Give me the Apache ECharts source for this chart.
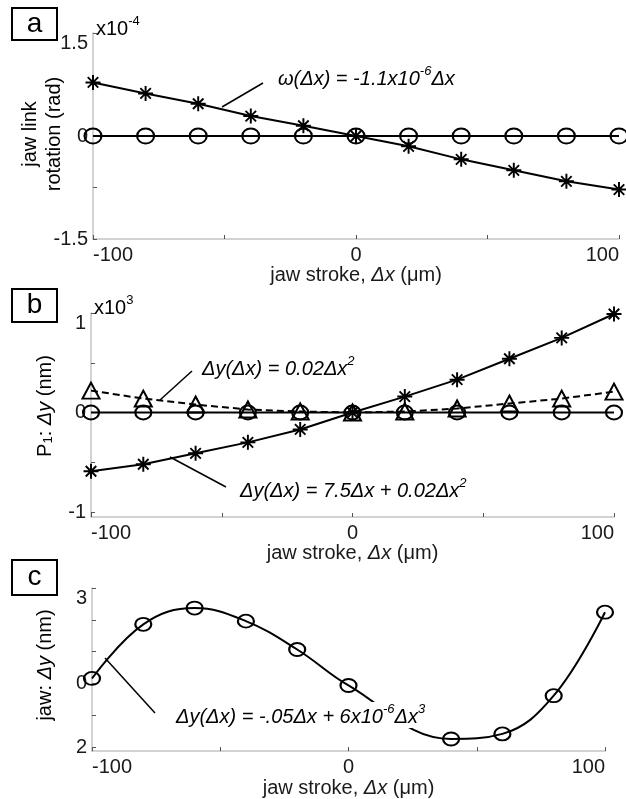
<!DOCTYPE html>
<html>
<head>
<meta charset="utf-8">
<script src="https://cdn.jsdelivr.net/npm/echarts@6/dist/echarts.min.js"></script>
<style>
html, body { margin: 0; padding: 0; background: #fff; }
#chart { width: 626px; height: 799px; }
</style>
</head>
<body>
<div id="chart"></div>
<script>
// jaw stroke positions (um)
var strokeX = [-100, -80, -60, -40, -20, 0, 20, 40, 60, 80, 100];
// panel a: jaw link rotation (x10^-4 rad)
var rotLinear = [0.78, 0.62, 0.47, 0.29, 0.15, 0, -0.15, -0.34, -0.50, -0.66, -0.78];
var rotZero = [0, 0, 0, 0, 0, 0, 0, 0, 0, 0, 0];
// panel b: P1 dy (x10^3 nm)
var p1Linear = [-0.59, -0.52, -0.41, -0.30, -0.17, 0, 0.16, 0.33, 0.54, 0.75, 0.99];
var p1Quad = [0.22, 0.14, 0.08, 0.03, 0.01, 0, 0.01, 0.04, 0.09, 0.14, 0.21];
var p1Zero = [0, 0, 0, 0, 0, 0, 0, 0, 0, 0, 0];
// panel c: jaw dy (nm)
var jawX = [-100, -80, -60, -40, -20, 0, 40, 60, 80, 100];
var jawY = [0.16, 1.86, 2.37, 1.96, 1.07, -0.06, -1.74, -1.58, -0.38, 2.24];

// ticks
var xTicks = [-100, -50, 0, 50, 100];
var xLabels = [-100, 0, 100];
var aTicks = [-1.5, -0.75, 0, 0.75, 1.5];
var aLabels = [-1.5, 0, 1.5];
var bTicks = [-1, -0.5, 0, 0.5, 1];
var bLabels = [-1, 0, 1];
var cTicks = [-2, -1, 0, 1, 2, 3];
var cLabels = [-2, 0, 3];

var FONT = '"Liberation Sans", Arial, sans-serif';
var INK = '#1a1a1a';
var STAR = 'path://M0,4.35L10,4.35L10,5.65L0,5.65Z M4.35,0L5.65,0L5.65,10L4.35,10Z M1.05,1.95L1.95,1.05L8.95,8.05L8.05,8.95Z M8.05,1.05L8.95,1.95L1.95,8.95L1.05,8.05Z';

function zip(xs, ys) {
  return xs.map(function (x, i) { return [x, ys[i]]; });
}

var rich = {
  n: { fontSize: 20, fontFamily: FONT, color: INK, lineHeight: 24, verticalAlign: 'bottom' },
  i: { fontSize: 20, fontFamily: FONT, color: INK, fontStyle: 'italic', lineHeight: 24, verticalAlign: 'bottom' },
  s: { fontSize: 13, fontFamily: FONT, color: INK, lineHeight: 17, verticalAlign: 'top' },
  si: { fontSize: 13, fontFamily: FONT, color: INK, fontStyle: 'italic', lineHeight: 17, verticalAlign: 'top' },
  sub: { fontSize: 13, fontFamily: FONT, color: INK, lineHeight: 20, verticalAlign: 'bottom' }
};

function xAxis(idx) {
  return {
    type: 'value', gridIndex: idx, min: -100, max: 100,
    axisLine: { onZero: false, lineStyle: { color: '#c4c4c4', width: 1.5 } },
    axisTick: { inside: true, length: 4, customValues: xTicks, lineStyle: { color: '#555' } },
    axisLabel: {
      customValues: xLabels, color: INK, fontSize: 20, fontFamily: FONT, margin: 6,
      alignMinLabel: 'left', alignMaxLabel: 'right'
    },
    splitLine: { show: false },
    name: '{n|jaw stroke, }{i|Δx}{n| (μm)}', nameLocation: 'middle', nameGap: 22,
    nameTextStyle: { rich: rich, verticalAlign: 'top' }
  };
}

function yAxis(idx, min, max, ticks, labels, fmt) {
  return {
    type: 'value', gridIndex: idx, min: min, max: max,
    axisLine: { show: true, onZero: false, lineStyle: { color: '#c4c4c4', width: 1.5 } },
    axisTick: { show: true, inside: true, length: 4, customValues: ticks, lineStyle: { color: '#555' } },
    axisLabel: {
      customValues: labels, color: INK, fontSize: 20, fontFamily: FONT, margin: 5,
      formatter: fmt, verticalAlignMaxLabel: 'top'
    },
    splitLine: { show: false }
  };
}

function starLine(xi, data) {
  return {
    type: 'line', xAxisIndex: xi, yAxisIndex: xi, data: data,
    symbol: STAR, symbolSize: 15, showAllSymbol: true,
    itemStyle: { color: '#000' },
    lineStyle: { color: '#000', width: 2 },
    z: 3
  };
}

function markLine(xi, data, symbol, size, dashed) {
  return {
    type: 'line', xAxisIndex: xi, yAxisIndex: xi, data: data,
    symbol: symbol, symbolSize: size, showAllSymbol: true,
    itemStyle: { color: 'rgba(0,0,0,0)', borderColor: '#000', borderWidth: 2 },
    lineStyle: { color: '#000', width: 2, type: dashed ? [7, 4] : 'solid' },
    z: 2
  };
}

function boxLabel(letter, top, h) {
  return [
    { type: 'rect', shape: { x: 12, y: top, width: 45, height: h }, style: { fill: '#fff', stroke: '#000', lineWidth: 2 }, z: 100 },
    { type: 'text', x: 34.5, y: top + h / 2, style: { text: letter, font: '28px ' + FONT, fill: '#000', align: 'center', verticalAlign: 'middle' }, z: 101 }
  ];
}

function richText(x, y, text, bg) {
  return {
    type: 'text', x: x, y: y, z: 101,
    style: {
      text: text, rich: rich, align: 'left', verticalAlign: 'middle',
      backgroundColor: bg ? '#fff' : null, padding: bg ? [1, 3] : 0
    }
  };
}

function yName(x, y, text) {
  return {
    type: 'text', x: x, y: y, rotation: Math.PI / 2, z: 101,
    style: { text: text, rich: rich, align: 'center', verticalAlign: 'middle' }
  };
}

function leader(x1, y1, x2, y2) {
  return { type: 'line', shape: { x1: x1, y1: y1, x2: x2, y2: y2 }, style: { stroke: '#000', lineWidth: 1.5 }, z: 100 };
}

var chart = echarts.init(document.getElementById('chart'));

var graphic = []
  .concat(boxLabel('a', 8, 32))
  .concat(boxLabel('b', 289, 33))
  .concat(boxLabel('c', 560, 35))
  .concat([
    richText(96, 27, '{n|x10}{s|-4}'),
    richText(94, 306, '{n|x10}{s|3}'),
    yName(40, 134, '{n|jaw link}\n{n|rotation (rad)}'),
    yName(43, 406, '{n|P}{sub|1}{n|: }{i|Δy}{n| (nm)}'),
    yName(43, 665, '{n|jaw: }{i|Δy}{n| (nm)}'),
    leader(222, 107, 263, 83),
    richText(278, 77, '{i|ω(Δx) = -1.1x10}{si|-6}{i|Δx}'),
    leader(160, 400, 192, 371),
    richText(202, 367, '{i|Δy(Δx) = 0.02Δx}{si|2}'),
    leader(170, 457, 226, 487),
    richText(240, 489, '{i|Δy(Δx) = 7.5Δx + 0.02Δx}{si|2}'),
    leader(105, 658, 155, 713),
    richText(173, 715, '{i|Δy(Δx) = -.05Δx + 6x10}{si|-6}{i|Δx}{si|3}', true)
  ]);

var option = {
  backgroundColor: '#fff',
  animation: false,
  grid: [
    { left: 93, width: 526, top: 33, height: 206 },
    { left: 91, width: 523, top: 313, height: 204 },
    { left: 92, width: 513, top: 588, height: 164 }
  ],
  xAxis: [xAxis(0), xAxis(1), xAxis(2)],
  yAxis: [
    yAxis(0, -1.5, 1.5, aTicks, aLabels),
    yAxis(1, -1.05, 1, bTicks, bLabels),
    yAxis(2, -2.12, 3, cTicks, cLabels, function (v) { return v < 0 ? String(-v) : String(v); })
  ],
  series: [
    markLine(0, zip(strokeX, rotZero), 'circle', [17, 15], false),
    starLine(0, zip(strokeX, rotLinear)),
    markLine(1, zip(strokeX, p1Zero), 'circle', [16, 14], false),
    markLine(1, zip(strokeX, p1Quad), 'triangle', [17, 16], true),
    starLine(1, zip(strokeX, p1Linear)),
    {
      type: 'line', xAxisIndex: 2, yAxisIndex: 2, data: zip(jawX, jawY),
      smooth: 0.4, symbol: 'circle', symbolSize: [16, 13], showAllSymbol: true,
      itemStyle: { color: 'rgba(0,0,0,0)', borderColor: '#000', borderWidth: 2 },
      lineStyle: { color: '#000', width: 2 }
    }
  ],
  graphic: graphic
};

chart.setOption(option);
</script>
</body>
</html>
